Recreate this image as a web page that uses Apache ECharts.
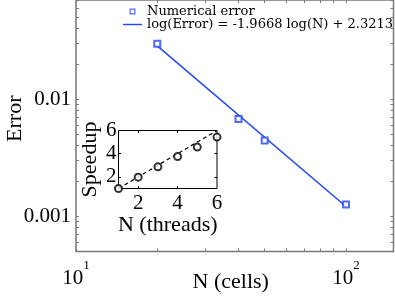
<!DOCTYPE html>
<html><head><meta charset="utf-8">
<script src="https://cdn.jsdelivr.net/npm/echarts@6/dist/echarts.min.js"></script>
<style>html,body{margin:0;padding:0;background:#fff}#c{width:395px;height:296px}</style>
</head><body><div id="c"></div>
<script>
// ---- data ----
const cellsN = [20, 40, 50, 100];
const errorValues = [0.0296, 0.00676, 0.00443, 0.00126];
const fitN = [20, 100];
const fitError = [0.0284, 0.00121];
const threads = [1, 2, 3, 4, 5, 6];
const speedup = [1.0, 1.98, 2.87, 3.76, 4.57, 5.43];
const idealThreads = [1, 6];
const idealSpeedup = [1, 6];
const xMajorTicks = [10, 100];
const xMinorTicks = [20, 30, 40, 50, 60, 70, 80, 90];
const yMajorTicks = [0.001, 0.01];
const yMinorTicks = [0.0006, 0.0007, 0.0008, 0.0009,
  0.002, 0.003, 0.004, 0.005, 0.006, 0.007, 0.008, 0.009,
  0.02, 0.03, 0.04, 0.05, 0.06, 0.07];
const insetLabelTicks = [2, 4, 6];
const insetTickMarks = [2, 4];
const legendNames = ['Numerical error', 'log(Error) = -1.9668 log(N) + 2.3213'];

// ---- styles ----
const SERIF = 'Liberation Serif';
const BLUE = '#2244ff';
const AXIS_GRAY = '#777777';
const HOLLOW_SQUARE = 'path://M0,0H10V10H0Z M2,2V8H8V2Z';
const LINE_ICON = 'path://M0,0H40V3H0Z';

const chart = echarts.init(document.getElementById('c'), null, {renderer: 'canvas'});

const pairs = (xs, ys) => xs.map((x, i) => [x, ys[i]]);

const mainTick = (vals) => ({show: true, inside: true, length: 3, customValues: vals,
  lineStyle: {color: AXIS_GRAY, width: 1}});
const insetTick = (vals) => ({show: true, inside: true, length: 2.5, customValues: vals,
  lineStyle: {color: '#000', width: 1}});

const option = {
  animation: false,
  backgroundColor: '#fff',
  textStyle: {fontFamily: SERIF},
  grid: [
    {left: 76, top: 0, width: 317.5, height: 251.5, show: true, outerBoundsMode: 'none', containLabel: false,
     borderColor: AXIS_GRAY, borderWidth: 1.5, backgroundColor: 'transparent'},
    {left: 118.5, top: 130.5, width: 98.5, height: 58, show: true, outerBoundsMode: 'none', containLabel: false,
     borderColor: '#000', borderWidth: 1, backgroundColor: '#fff'}
  ],
  legend: {
    orient: 'vertical', left: 123, top: 5, padding: 0,
    itemWidth: 19, itemHeight: 6, itemGap: 0,
    itemStyle: {borderWidth: 0},
    textStyle: {fontFamily: 'DejaVu Serif', fontSize: 13, color: '#000', lineHeight: 13},
    data: [{name: legendNames[0], icon: HOLLOW_SQUARE}, {name: legendNames[1], icon: LINE_ICON}]
  },
  xAxis: [
    {type: 'log', logBase: 10, gridIndex: 0, min: 10, max: 150, position: 'bottom',
     axisLine: {show: false}, splitLine: {show: false}, minorTick: {show: false},
     axisTick: mainTick(xMajorTicks.concat(xMinorTicks)),
     axisLabel: {customValues: xMajorTicks, margin: 8,
       formatter: v => '{b|10}{s|' + Math.round(Math.log10(v)) + '}',
       rich: {
         b: {fontFamily: SERIF, fontSize: 21, color: '#000', lineHeight: 21, verticalAlign: 'bottom'},
         s: {fontFamily: SERIF, fontSize: 13, color: '#000', verticalAlign: 'top', padding: [0, 0, 16, 0]}
       }},
     name: 'N (cells)', nameLocation: 'middle', nameGap: 20, nameMoveOverlap: false,
     nameTextStyle: {fontFamily: SERIF, fontSize: 22, color: '#000', padding: [0, 8, 0, 0]}},
    {type: 'log', logBase: 10, gridIndex: 0, min: 10, max: 150, position: 'top',
     axisLine: {show: false}, splitLine: {show: false}, minorTick: {show: false},
     axisTick: mainTick(xMajorTicks.concat(xMinorTicks)), axisLabel: {show: false}},
    {type: 'value', gridIndex: 1, min: 1, max: 6, position: 'bottom',
     axisLine: {show: false}, splitLine: {show: false},
     axisTick: insetTick(insetTickMarks),
     axisLabel: {customValues: insetLabelTicks, margin: 4, fontFamily: SERIF, fontSize: 21, color: '#000'},
     name: 'N (threads)', nameLocation: 'middle', nameGap: 17,
     nameTextStyle: {fontFamily: SERIF, fontSize: 22, color: '#000'}},
    {type: 'value', gridIndex: 1, min: 1, max: 6, position: 'top',
     axisLine: {show: false}, splitLine: {show: false},
     axisTick: insetTick(insetTickMarks), axisLabel: {show: false}}
  ],
  yAxis: [
    {type: 'log', logBase: 10, gridIndex: 0, min: 0.0005, max: 0.07, position: 'left',
     axisLine: {show: false}, splitLine: {show: false}, minorTick: {show: false},
     axisTick: mainTick(yMajorTicks.concat(yMinorTicks)),
     axisLabel: {customValues: yMajorTicks, margin: 5, fontFamily: SERIF, fontSize: 21, color: '#000',
       formatter: v => String(Number(v.toPrecision(1)))},
     name: 'Error', nameLocation: 'middle', nameGap: 50, nameMoveOverlap: false,
     nameTextStyle: {fontFamily: SERIF, fontSize: 22, color: '#000', padding: [0, 0, 0, 14]}},
    {type: 'log', logBase: 10, gridIndex: 0, min: 0.0005, max: 0.07, position: 'right',
     axisLine: {show: false}, splitLine: {show: false}, minorTick: {show: false},
     axisTick: mainTick(yMajorTicks.concat(yMinorTicks)), axisLabel: {show: false}},
    {type: 'value', gridIndex: 1, min: 1, max: 6, position: 'left',
     axisLine: {show: false}, splitLine: {show: false},
     axisTick: insetTick(insetTickMarks),
     axisLabel: {customValues: insetLabelTicks, margin: 2, fontFamily: SERIF, fontSize: 21, color: '#000'},
     name: 'Speedup', nameLocation: 'middle', nameGap: 17,
     nameTextStyle: {fontFamily: SERIF, fontSize: 22, color: '#000'}},
    {type: 'value', gridIndex: 1, min: 1, max: 6, position: 'right',
     axisLine: {show: false}, splitLine: {show: false},
     axisTick: insetTick(insetTickMarks), axisLabel: {show: false}}
  ],
  series: [
    {name: legendNames[0], type: 'scatter', xAxisIndex: 0, yAxisIndex: 0,
     symbol: 'emptyRect', symbolSize: 6, z: 4,
     itemStyle: {color: BLUE, borderWidth: 1.6},
     data: pairs(cellsN, errorValues)},
    {name: legendNames[1], type: 'line', xAxisIndex: 0, yAxisIndex: 0,
     symbol: 'none', z: 3,
     lineStyle: {color: BLUE, width: 1.5}, itemStyle: {color: BLUE},
     data: pairs(fitN, fitError)},
    {name: 'ideal', type: 'line', xAxisIndex: 2, yAxisIndex: 2,
     symbol: 'none', z: 3,
     lineStyle: {color: '#000', width: 1.2, type: [4, 3]},
     data: pairs(idealThreads, idealSpeedup)},
    {name: 'speedup', type: 'scatter', xAxisIndex: 2, yAxisIndex: 2,
     symbol: 'emptyCircle', symbolSize: 7, z: 4,
     itemStyle: {color: '#000', borderWidth: 1.3},
     data: pairs(threads, speedup)}
  ]
};
chart.setOption(option);
</script>
</body></html>
